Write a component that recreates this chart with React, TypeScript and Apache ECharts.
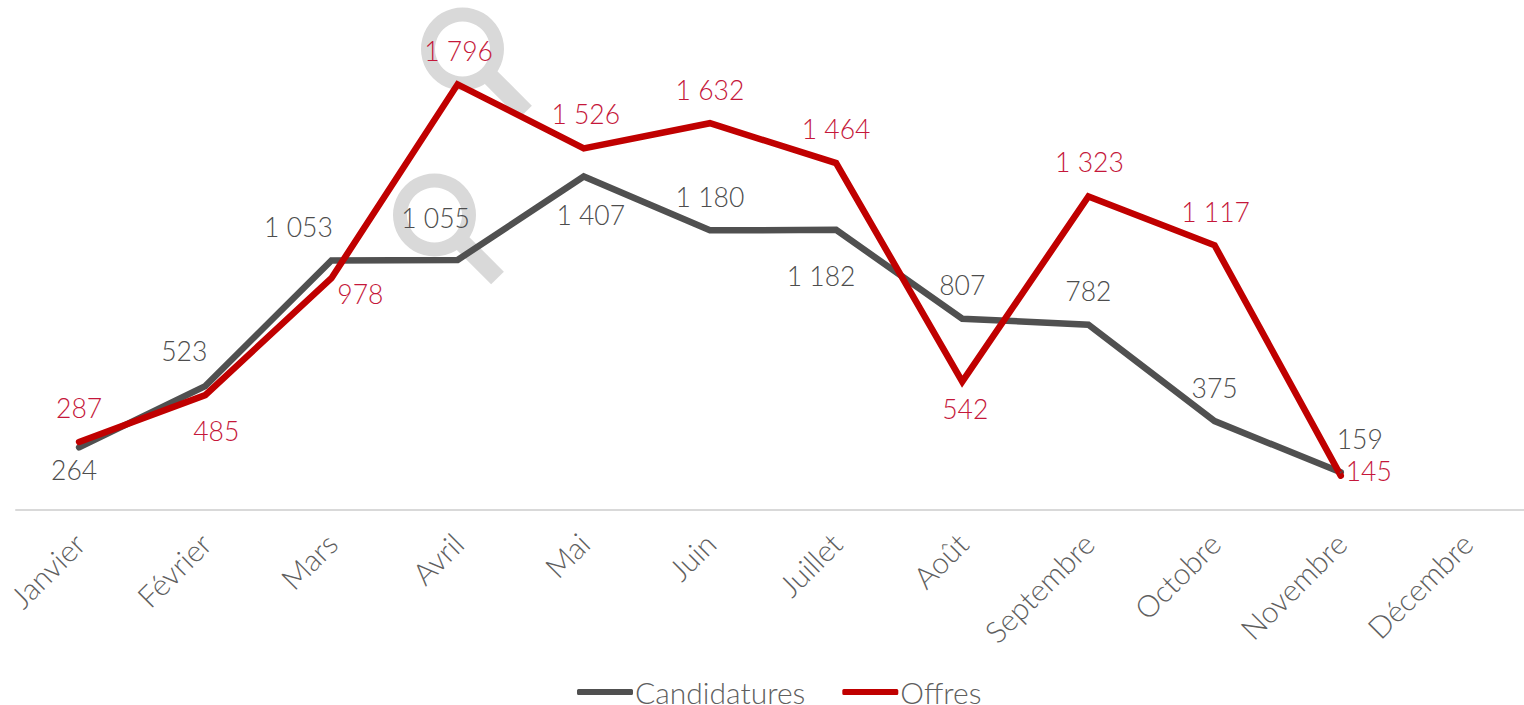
import React, { useEffect, useRef } from "react";
import * as echarts from "echarts";

const months = ["Janvier", "Février", "Mars", "Avril", "Mai", "Juin", "Juillet", "Août", "Septembre", "Octobre", "Novembre", "Décembre"];
const candidatures = [264, 523, 1053, 1055, 1407, 1180, 1182, 807, 782, 375, 159, null];
const offres = [287, 485, 978, 1796, 1526, 1632, 1464, 542, 1323, 1117, 145, null];
const candidaturesOffsets = [[-5, 23], [-21, -35], [-33, -33], [-22, -42], [7, 38], [0, -33], [-15, 46], [0, -34], [0, -34], [0, -33], [19, -33], [0, 0]];
const offresOffsets = [[0, -34], [11, 36], [29, 16], [1, -33], [2, -34], [0, -33], [0, -34], [3, 27], [1, -34], [1, -33], [28, -5], [0, 0]];

const FONT = "Lato";
const GREY = "#505050";
const RED = "#c00000";
const HALO = "#d9d9d9";

const fmt = (p: any) => String(p.value).replace(/\B(?=(\d{3})+$)/g, " ");

function magnifier(cx: number, cy: number) {
  return {
    type: "group",
    z: 0,
    children: [
      { type: "line", z: 0, shape: { x1: cx + 26, y1: cy + 26, x2: cx + 63, y2: cy + 63 }, style: { stroke: HALO, lineWidth: 18, fill: "none" } },
      { type: "ring", z: 0, shape: { cx, cy, r: 41.5, r0: 27.5 }, style: { fill: HALO } },
    ],
  };
}

function makeSeries(name: string, values: (number | null)[], offsets: number[][], color: string, labelColor: string) {
  return {
    name,
    type: "line",
    symbol: "circle",
    symbolSize: 2,
    showSymbol: true,
    z: 3,
    lineStyle: { color, width: 6.5, cap: "round", join: "miter" },
    itemStyle: { color },
    data: values.map((v, i) => ({
      value: v,
      label: { show: v !== null, position: "inside", offset: offsets[i], color: labelColor, fontFamily: FONT, fontSize: 26.5, fontWeight: 300, formatter: fmt },
    })),
  };
}

export default function App() {
  const ref = useRef<HTMLDivElement>(null);
  useEffect(() => {
    const chart = echarts.init(ref.current!, null, { renderer: "svg" });
    chart.setOption({
      animation: false,
      backgroundColor: "#ffffff",
      grid: { left: 16, top: 36, width: 1514, height: 474 },
      xAxis: {
        type: "category",
        data: months,
        axisLine: { lineStyle: { color: HALO, width: 2 } },
        axisTick: { show: false },
        axisLabel: { rotate: 45, interval: 0, color: "#5f5f5f", fontFamily: FONT, fontSize: 30, fontWeight: 300, margin: 28 },
      },
      yAxis: { type: "value", min: 0, max: 2000, show: false },
      legend: {
        top: 677,
        left: 577,
        padding: 0,
        icon: "roundRect",
        itemWidth: 56,
        itemHeight: 6,
        itemGap: 37,
        textStyle: { color: "#5f5f5f", fontFamily: FONT, fontSize: 30, lineHeight: 26, fontWeight: 300, padding: [0, 0, 3, -3] },
        data: ["Candidatures", "Offres"],
      },
      graphic: [magnifier(462.5, 49), magnifier(434.5, 215)],
      series: [
        makeSeries("Candidatures", candidatures, candidaturesOffsets, GREY, "#4d4d4d"),
        makeSeries("Offres", offres, offresOffsets, RED, "#c5173a"),
      ],
    });
    return () => chart.dispose();
  }, []);
  return <div ref={ref} style={{ position: "fixed", left: 0, top: 0, width: 1530, height: 705 }} />;
}
